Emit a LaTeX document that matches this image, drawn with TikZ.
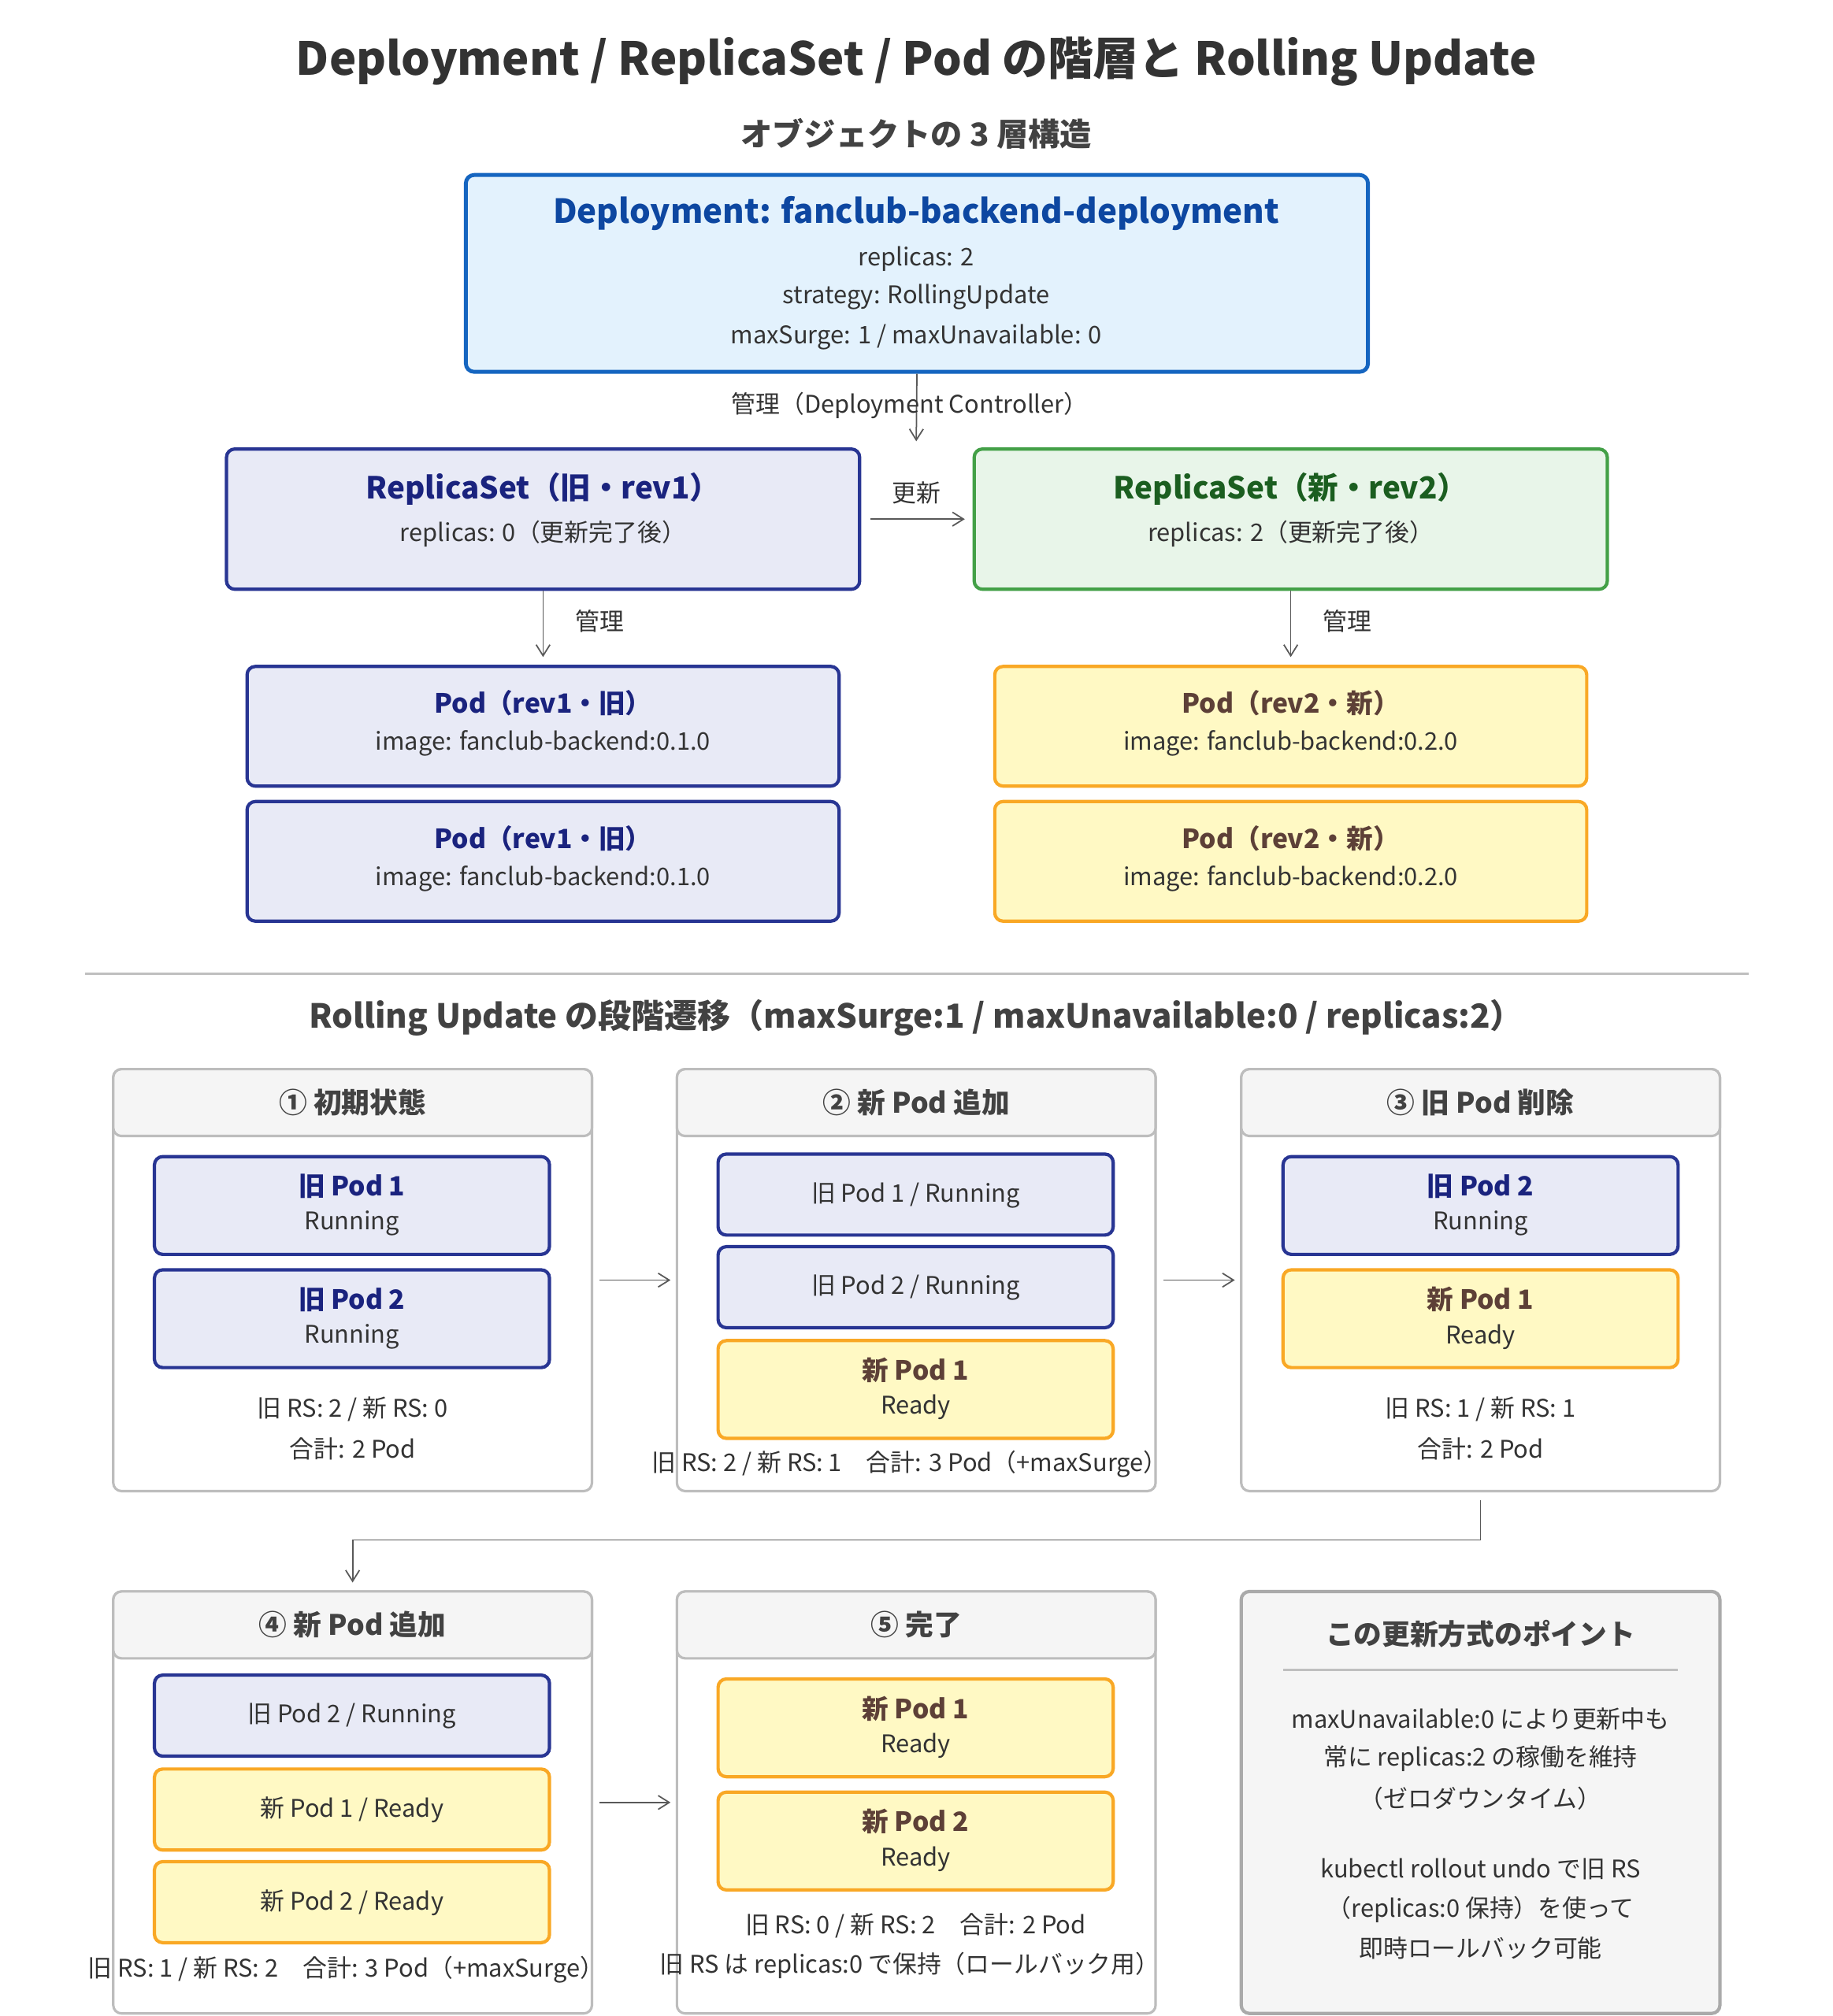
\documentclass[tikz,border=0pt]{standalone}
\usepackage{fontspec}
\setmainfont{Noto Sans CJK JP}
\usetikzlibrary{arrows.meta,calc}
\definecolor{txt}{HTML}{333333}
\definecolor{depb}{HTML}{1565C0}\definecolor{depf}{HTML}{E3F2FD}\definecolor{dept}{HTML}{0D47A1}
\definecolor{oldb}{HTML}{283593}\definecolor{oldf}{HTML}{E8EAF6}\definecolor{oldt}{HTML}{1A237E}
\definecolor{grnb}{HTML}{43A047}\definecolor{grnf}{HTML}{E8F5E9}\definecolor{grnt}{HTML}{1B5E20}
\definecolor{newb}{HTML}{F9A825}\definecolor{newf}{HTML}{FFF9C4}\definecolor{newt}{HTML}{5D4037}
\definecolor{panb}{HTML}{BDBDBD}\definecolor{panh}{HTML}{F5F5F5}\definecolor{hdt}{HTML}{424242}
\newcommand\U{0.01639cm}
\tikzset{
 x=0.01639cm, y=-0.01639cm,
 bx/.style 2 args={minimum width=#1*\U, minimum height=#2*\U, inner sep=0pt, rounded corners=3pt},
 dep/.style={draw=depb, fill=depf, line width=1.4pt},
 old/.style={draw=oldb, fill=oldf, line width=1.2pt},
 grn/.style={draw=grnb, fill=grnf, line width=1.2pt},
 new/.style={draw=newb, fill=newf, line width=1.2pt},
 pan/.style={draw=panb, fill=white, line width=0.9pt},
 hdr/.style={draw=panb, fill=panh, line width=0.9pt},
 pt/.style={draw=panb!90!black, fill=panh, line width=1.2pt},
 t/.style={text=txt, font=\fontsize{8.8}{10}\selectfont, inner sep=0pt},
 tb/.style={font=\fontsize{9.6}{11}\selectfont\bfseries, inner sep=0pt},
 ht/.style={text=hdt, font=\fontsize{10.2}{12}\selectfont\bfseries, inner sep=0pt},
 arr/.style={draw=black!65, line width=0.5pt, -{Straight Barb[length=4pt,width=5pt]}},
}
\begin{document}
\begin{tikzpicture}
\useasboundingbox[fill=white] (0,0) rectangle (1424,1567);
\node[text=txt,font=\fontsize{16.5}{20}\selectfont\bfseries] (title) at (712,48) {Deployment / ReplicaSet / Pod の階層と Rolling Update};
\node[text=hdt,font=\fontsize{11.5}{14}\selectfont\bfseries] (sub1) at (712,104) {オブジェクトの 3 層構造};
% Deployment
\node[dep,bx={701}{153}] (depl) at (712.5,212.5) {};
\node[text=dept,font=\fontsize{12}{14}\selectfont\bfseries] (dt) at (712,166) {Deployment: fanclub-backend-deployment};
\node[t] (d1) at (712,201) {replicas: 2};
\node[t] (d2) at (712,231) {strategy: RollingUpdate};
\node[t] (d3) at (712,262) {maxSurge: 1 / maxUnavailable: 0};
% ReplicaSets
\node[old,bx={492}{109}] (rso) at (422,403.5) {};
\node[tb,text=oldt,font=\fontsize{11}{13}\selectfont\bfseries] (rsot) at (422,380) {ReplicaSet（旧・rev1）};
\node[t] (rso1) at (422,415) {replicas: 0（更新完了後）};
\node[grn,bx={492}{109}] (rsn) at (1003,403.5) {};
\node[tb,text=grnt,font=\fontsize{11}{13}\selectfont\bfseries] (rsnt) at (1003,380) {ReplicaSet（新・rev2）};
\node[t] (rsn1) at (1003,415) {replicas: 2（更新完了後）};
\coordinate (depend) at (712,343);
\draw[arr] (depl.south) -- (depend);
\node[t] (lbl1) at (707,315) {管理（Deployment Controller）};
\draw[arr] ($(rso.east)+(7,0)$) -- ($(rsn.west)+(-6,0)$);
\node[t] (lbl2) at (712,383) {更新};
% Pods
\foreach \n/\y in {po1/564.5,po2/669.5}{
 \node[old,bx={460}{93}] (\n) at (422,\y) {};
 \node[tb,text=oldt] at (422,\y-18) {Pod（rev1・旧）};
 \node[t] at (422,\y+13.5) {image: fanclub-backend:0.1.0};
}
\foreach \n/\y in {pn1/564.5,pn2/669.5}{
 \node[new,bx={460}{93}] (\n) at (1003,\y) {};
 \node[tb,text=newt] at (1003,\y-18) {Pod（rev2・新）};
 \node[t] at (1003,\y+13.5) {image: fanclub-backend:0.2.0};
}
\draw[arr] (rso.south) -- ($(po1.north)+(0,-6)$);
\draw[arr] (rsn.south) -- ($(pn1.north)+(0,-6)$);
\node[t] (lbl3) at (466,483) {管理};
\node[t] (lbl4) at (1047,483) {管理};
% separator
\draw[black!25, line width=1pt] (66,757) -- (1359,757);
\node[text=hdt,font=\fontsize{12}{14}\selectfont\bfseries] (sub2) at (712,791) {Rolling Update の段階遷移（maxSurge:1 / maxUnavailable:0 / replicas:2）};
% Panels
\foreach \n/\x/\y/\h in {pa/274/995/① 初期状態, pb/712/995/② 新 Pod 追加, pc/1150.5/995/③ 旧 Pod 削除, pd/274/1401/④ 新 Pod 追加, pe/712/1401/⑤ 完了}{
 \node[pan,bx={372}{328}] (\n) at (\x,\y) {};
 \node[hdr,bx={372}{52}] (\n-h) at (\x,\y-138) {};
 \node[ht] at (\x,\y-138) {\h};
}
\node[pt,bx={372}{328}] (pf) at (1150.5,1401) {};
\node[ht] (pft) at (1150.5,1270) {この更新方式のポイント};
\draw[black!25, line width=0.8pt] (997,1298) -- (1304,1298);
\foreach \y/\s in {1336/maxUnavailable:0 により更新中も,1367/常に replicas:2 の稼働を維持,1398/（ゼロダウンタイム）,1453/kubectl rollout undo で旧 RS,1484/（replicas:0 保持）を使って,1514/即時ロールバック可能}
 \node[t] at (1150.5,\y) {\s};
% Panel 1
\node[old,bx={307}{76}] (p1a) at (273.5,937) {};
\node[tb,text=oldt] at (273.5,922) {旧 Pod 1}; \node[t] at (273.5,951) {Running};
\node[old,bx={307}{76}] (p1b) at (273.5,1025) {};
\node[tb,text=oldt] at (273.5,1010) {旧 Pod 2}; \node[t] at (273.5,1039) {Running};
\node[t] at (274,1095) {旧 RS: 2 / 新 RS: 0}; \node[t] at (274,1126) {合計: 2 Pod};
% Panel 2
\node[old,bx={307}{63}] (p2a) at (711.5,928.5) {}; \node[t] at (711.5,929) {旧 Pod 1 / Running};
\node[old,bx={307}{63}] (p2b) at (711.5,1000.5) {}; \node[t] at (711.5,1001) {旧 Pod 2 / Running};
\node[new,bx={307}{76}] (p2c) at (711.5,1080) {};
\node[tb,text=newt] at (711.5,1065) {新 Pod 1}; \node[t] at (711.5,1094) {Ready};
\node[t] at (707,1138) {旧 RS: 2 / 新 RS: 1　合計: 3 Pod（+maxSurge）};
% Panel 3
\node[old,bx={307}{76}] (p3a) at (1150.5,937) {};
\node[tb,text=oldt] at (1150.5,922) {旧 Pod 2}; \node[t] at (1150.5,951) {Running};
\node[new,bx={307}{76}] (p3b) at (1150.5,1025) {};
\node[tb,text=newt] at (1150.5,1010) {新 Pod 1}; \node[t] at (1150.5,1039) {Ready};
\node[t] at (1150.5,1095) {旧 RS: 1 / 新 RS: 1}; \node[t] at (1150.5,1126) {合計: 2 Pod};
% Panel 4
\node[old,bx={307}{63}] (p4a) at (273.5,1333.5) {}; \node[t] at (273.5,1334) {旧 Pod 2 / Running};
\node[new,bx={307}{63}] (p4b) at (273.5,1406.5) {}; \node[t] at (273.5,1407) {新 Pod 1 / Ready};
\node[new,bx={307}{63}] (p4c) at (273.5,1478.5) {}; \node[t] at (273.5,1479) {新 Pod 2 / Ready};
\node[t] at (269,1531) {旧 RS: 1 / 新 RS: 2　合計: 3 Pod（+maxSurge）};
% Panel 5
\node[new,bx={307}{76}] (p5a) at (711.5,1343) {};
\node[tb,text=newt] at (711.5,1328) {新 Pod 1}; \node[t] at (711.5,1357) {Ready};
\node[new,bx={307}{76}] (p5b) at (711.5,1431) {};
\node[tb,text=newt] at (711.5,1416) {新 Pod 2}; \node[t] at (711.5,1445) {Ready};
\node[t] at (711.5,1497) {旧 RS: 0 / 新 RS: 2　合計: 2 Pod}; \node[t] at (707,1528) {旧 RS は replicas:0 で保持（ロールバック用）};
% stage arrows
\draw[arr] ($(pa.east)+(5,0)$) -- ($(pb.west)+(-4,0)$);
\draw[arr] ($(pb.east)+(5,0)$) -- ($(pc.west)+(-4,0)$);
\draw[arr] ($(pd.east)+(5,0)$) -- ($(pe.west)+(-4,0)$);
\draw[arr] ($(pc.south)+(0,6)$) -- (1150.5,1197) -- (274,1197) -- ($(pd-h.north)+(0,-6)$);
\end{tikzpicture}
\end{document}
